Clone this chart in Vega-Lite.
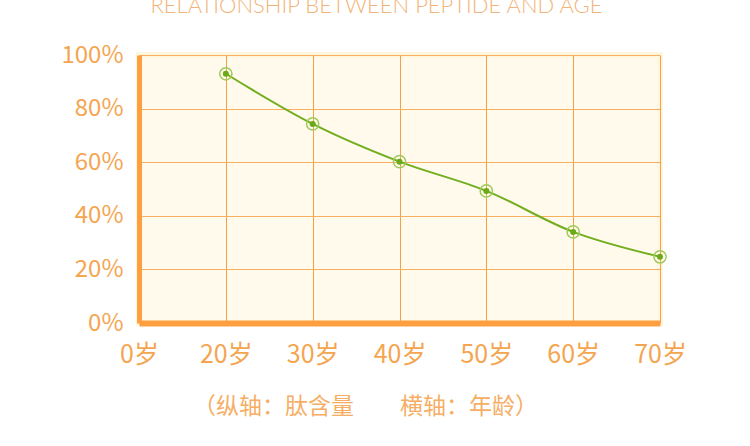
{
  "$schema": "https://vega.github.io/schema/vega-lite/v6.json",
  "autosize": "none",
  "width": 521,
  "height": 268,
  "padding": {"left": 139, "top": 55, "right": 90, "bottom": 123},
  "background": "#ffffff",
  "config": {
    "font": "Noto Sans CJK SC",
    "view": {"fill": "#fffaec", "stroke": "#fff6e0", "strokeWidth": 6}
  },
  "title": {
    "text": "RELATIONSHIP BETWEEN PEPTIDE AND AGE",
    "font": "Lato",
    "fontWeight": 300,
    "fontSize": 22,
    "color": "#f2b47a",
    "anchor": "middle",
    "dx": -23,
    "offset": 25
  },
  "data": {
    "values": [
      {"age": "20岁", "peptide": 0.93},
      {"age": "30岁", "peptide": 0.743},
      {"age": "40岁", "peptide": 0.602},
      {"age": "50岁", "peptide": 0.493},
      {"age": "60岁", "peptide": 0.34},
      {"age": "70岁", "peptide": 0.247}
    ]
  },
  "encoding": {
    "x": {
      "field": "age",
      "type": "ordinal",
      "scale": {
        "type": "point",
        "padding": 0,
        "domain": ["0岁", "20岁", "30岁", "40岁", "50岁", "60岁", "70岁"]
      },
      "axis": {
        "title": "（纵轴：肽含量　　横轴：年龄）",
        "titleFontSize": 23,
        "titleFontWeight": "normal",
        "titleColor": "#f6ae66",
        "titleX": 226,
        "titleAlign": "center",
        "titlePadding": 28,
        "labelAngle": 0,
        "labelFontSize": 25,
        "labelColor": "#f5a550",
        "labelPadding": 19,
        "ticks": false,
        "domainColor": "#ff9f40",
        "domainWidth": 6,
        "grid": true,
        "gridColor": "#f4a048",
        "gridWidth": 1
      }
    },
    "y": {
      "field": "peptide",
      "type": "quantitative",
      "scale": {"domain": [0, 1]},
      "axis": {
        "title": null,
        "values": [0, 0.2, 0.4, 0.6, 0.8, 1],
        "format": ".0%",
        "labelFontSize": 24,
        "labelColor": "#f5a550",
        "labelPadding": 16,
        "ticks": false,
        "domainColor": "#ff9f40",
        "domainWidth": 5,
        "gridColor": "#f7b060",
        "gridWidth": 1
      }
    }
  },
  "layer": [
    {
      "mark": {"type": "line", "color": "#72ae1e", "strokeWidth": 2, "interpolate": "monotone"}
    },
    {
      "mark": {"type": "point", "shape": "circle", "size": 150, "filled": false, "stroke": "#9ccb5c", "strokeWidth": 1.5, "opacity": 1}
    },
    {
      "mark": {"type": "point", "shape": "circle", "size": 36, "filled": true, "color": "#6aaa18", "opacity": 1}
    }
  ]
}
